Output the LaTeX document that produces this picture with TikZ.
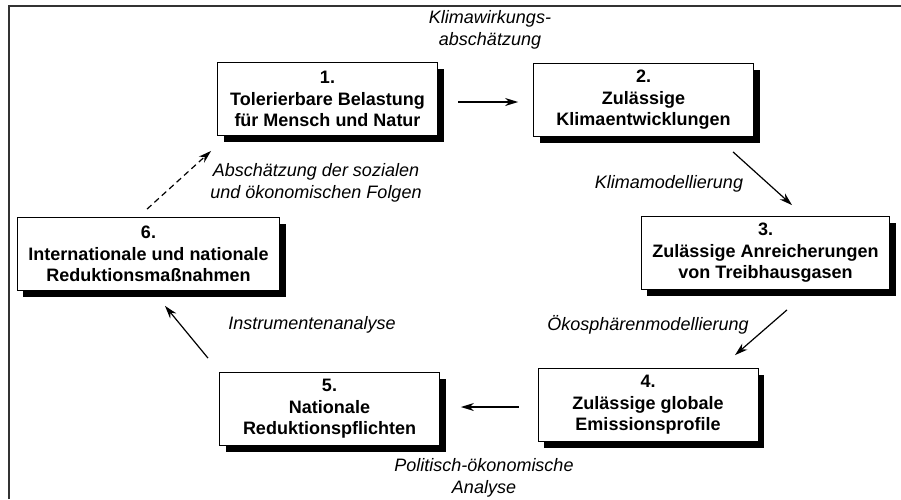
\documentclass[tikz,border=0pt]{standalone}
\usepackage{fontspec}
\setmainfont{Liberation Sans}
\usetikzlibrary{calc,arrows.meta}

\tikzset{
  stufe/.style={draw, line width=0.8pt, fill=white, align=center,
    minimum width=220pt, minimum height=73pt, inner xsep=11pt,
    font=\fontsize{18}{21.5}\selectfont\bfseries,
    preaction={fill=black, transform canvas={shift={(6pt,-6pt)}}}},
  schritt/.style={align=center, font=\fontsize{18}{22.5}\selectfont\itshape},
  pfeil/.style={line width=1.2pt, -{Stealth[length=13pt,width=8pt]}}
}

\begin{document}
\begin{tikzpicture}[x=1pt, y=-1pt]
    \useasboundingbox (0,0) rectangle (901,499);

    % --- Rahmen ---
    \draw[line width=1.5pt, black!80] (9,499) -- (9,6) -- (901,6);

    % --- Stufen ---
    \node[stufe] (b1) at (327.5,99)  {1.\\Tolerierbare Belastung\\für Mensch und Natur};
    \node[stufe] (b2) at (643.5,100) {2.\\Zulässige\\Klimaentwicklungen};
    \node[stufe] (b3) at (765.5,253) {3.\\Zulässige Anreicherungen\\von Treibhausgasen};
    \node[stufe] (b4) at (648,405)   {4.\\Zulässige globale\\Emissionsprofile};
    \node[stufe] (b5) at (329.5,409) {5.\\Nationale\\Reduktionspflichten};
    \node[stufe] (b6) at (148.5,254) {6.\\Internationale und nationale\\Reduktionsmaßnahmen};

    % --- Pfeile ---
    \draw[pfeil] ($(b1.east)+(20.5,3)$) -- ($(b2.west)+(-15,2)$);
    \draw[pfeil] ($(b2.south)+(89.5,15)$) -- ($(b3.north)+(26.5,-11)$);
    \draw[pfeil] ($(b3.south)+(21.5,20)$) -- ($(b4.north)+(87,-13)$);
    \draw[pfeil] ($(b4.west)+(-19,2)$) -- ($(b5.east)+(21,-2)$);
    \draw[pfeil] ($(b5.north)+(-121.5,-14)$) -- ($(b6.south)+(16.5,15)$);
    \draw[pfeil, dash pattern=on 6pt off 4pt] ($(b6.north)+(-1.5,-8)$) -- ($(b1.south west)+(-6,15)$);

    % --- Beschriftungen ---
    \node[schritt] (l12) at (490,30)  {Klimawirkungs-\\abschätzung};
    \node[schritt] (l23) at (669,184) {Klimamodellierung};
    \node[schritt] (l34) at (648,325) {Ökosphärenmodellierung};
    \node[schritt] (l45) at (484,478) {Politisch-ökonomische\\Analyse};
    \node[schritt] (l56) at (312,325) {Instrumentenanalyse};
    \node[schritt] (l61) at (316,183) {Abschätzung der sozialen\\und ökonomischen Folgen};
\end{tikzpicture}
\end{document}
